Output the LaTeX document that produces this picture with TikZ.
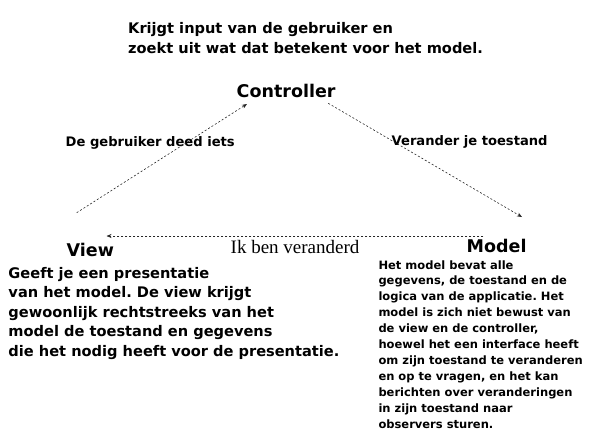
\documentclass[tikz,border=0pt]{standalone}
\usepackage{fontspec}
\setmainfont{DejaVu Sans}
\newfontfamily\serifface{Liberation Serif}
\usetikzlibrary{arrows.meta}
\frenchspacing
\tikzset{
  txt/.style={anchor=base west, inner sep=0pt, font=\bfseries\fontsize{14.6}{19.4}\selectfont, align=left},
  title/.style={anchor=base west, inner sep=0pt, font=\bfseries\fontsize{17.5}{20}\selectfont},
  lbl/.style={anchor=base west, inner sep=0pt, font=\bfseries\fontsize{13.1}{16}\selectfont},
  serlbl/.style={anchor=base west, inner sep=0pt, font=\serifface\fontsize{19}{20}\selectfont},
  small/.style={anchor=base west, inner sep=0pt, font=\bfseries\fontsize{11.5}{15.93}\selectfont, align=left},
  flow/.style={dash pattern=on 2pt off 2pt, line width=0.6pt, draw=black!85, -{Stealth[length=5pt,width=4pt]}}
}
\begin{document}
\begin{tikzpicture}[x=1pt,y=-1pt]
\useasboundingbox (0,0) rectangle (589,437);
\node[txt] (ctrltxt) at (128,53) {Krijgt input van de gebruiker en\\zoekt uit wat dat betekent voor het model.};
\node[title] (ctrl) at (236.5,97.7) {Controller};
\node[title] (view) at (66.5,256) {View};
\node[title] (model) at (466.5,252.3) {Model};
\node[lbl] (l1) at (65.5,146.7) {De gebruiker deed iets};
\node[lbl] (l2) at (391.5,145.5) {Verander je toestand};
\node[serlbl] (l3) at (230.5,253.3) {Ik ben veranderd};
\node[txt] (viewtxt) at (8.3,356) {Geeft je een presentatie\\van het model. De view krijgt\\gewoonlijk rechtstreeks van het\\model de toestand en gegevens\\die het nodig heeft voor de presentatie.};
\node[small] (modeltxt) at (378.3,428.3) {Het model bevat alle\\gegevens, de toestand en de\\logica van de applicatie. Het\\model is zich niet bewust van\\de view en de controller,\\hoewel het een interface heeft\\om zijn toestand te veranderen\\en op te vragen, en het kan\\berichten over veranderingen\\in zijn toestand naar\\observers sturen.};
\coordinate (v1) at (76.7,212.7);
\coordinate (c1) at (247,104);
\coordinate (c2) at (328.3,103.3);
\coordinate (m1) at (522,217);
\coordinate (m2) at (483.3,236);
\coordinate (v2) at (106.5,236);
\draw[flow] (v1) -- (c1);
\draw[flow] (c2) -- (m1);
\draw[flow] (m2) -- (v2);
\end{tikzpicture}
\end{document}
